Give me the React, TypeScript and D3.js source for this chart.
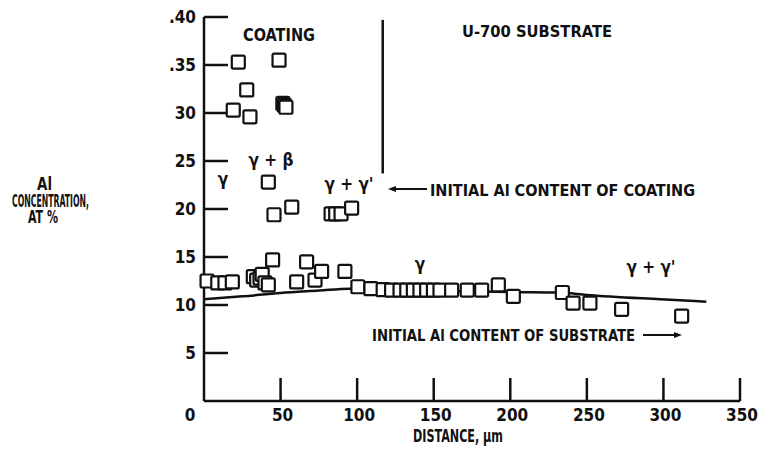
import React from 'react';
import * as d3 from 'd3';

// measured Al concentration (at %) vs distance from surface (um)
const distance = [
  2, 9, 13.7, 18.5, 22.4, 19.1, 27.9, 30, 49, 51.5, 52.5, 53.5,
  42, 45.7, 57.3, 83, 86, 89.5, 96.4,
  32.2, 34.4, 36.6, 38, 39.8, 42, 44.8, 60.5, 67, 72.5, 76.8, 92,
  100.5, 109, 117, 122.5, 128, 132.4, 136.7, 141, 145.4, 149.8, 154.1,
  161.7, 171.9, 181.3, 192.2, 202, 234, 241, 252, 272.7, 311.9
];
const concentration = [
  12.5, 12.3, 12.3, 12.4, 35.3, 30.3, 32.4, 29.6, 35.5, 31.0, 30.8, 30.6,
  22.8, 19.4, 20.2, 19.5, 19.5, 19.5, 20.1,
  12.95, 12.6, 12.8, 13.2, 12.3, 12.1, 14.7, 12.4, 14.5, 12.6, 13.5, 13.5,
  11.9, 11.7, 11.6, 11.55, 11.55, 11.55, 11.55, 11.55, 11.55, 11.55, 11.55,
  11.55, 11.55, 11.55, 12.1, 10.9, 11.3, 10.2, 10.2, 9.55, 8.85
];

// initial Al content of substrate curve
const substrateX = [0, 25, 50, 75, 95, 110, 150, 200, 232, 250, 298, 328];
const substrateY = [10.6, 10.9, 11.25, 11.5, 11.7, 11.65, 11.5, 11.35, 11.3, 11.05, 10.6, 10.35];

// coating / substrate boundary
const boundaryX = 116.7;
const boundaryY = [23.7, 39.7];

const xTicks = [50, 100, 150, 200, 250, 300, 350];
const xTickLabels = ['50', '100', '150', '200', '250', '300', '350'];
const yTicks = [5, 10, 15, 20, 25, 30, 35, 40];
const yTickLabels = ['5', '10', '15', '20', '25', '30', '.35', '.40'];

const FONT = '"DejaVu Sans Condensed", "DejaVu Sans", sans-serif';

export default function App() {
  const x = d3.scaleLinear().domain([0, 350]).range([204, 740]);
  const y = d3.scaleLinear().domain([0, 40]).range([401, 17]);

  const line = d3.line<number>()
    .x((d, i) => x(substrateX[i]))
    .y(d => y(d))
    .curve(d3.curveMonotoneX);

  const sq = 13;
  const txt = {fontFamily: FONT, fontWeight: 700, fill: '#111'};
  const fit = {lengthAdjust: 'spacingAndGlyphs'} as any;

  return (
    <svg width={759} height={454} style={{position: 'absolute', left: 0, top: 0, background: '#fff'}}>
      <g stroke="#111" strokeWidth={2.5} fill="none">
        {/* axes */}
        <line x1={x(0)} x2={x(0)} y1={y(0)} y2={y(40)} />
        <line x1={x(0)} x2={x(350)} y1={y(0)} y2={y(0)} />
        {yTicks.map(t => (
          <line key={'yt' + t} x1={x(0)} x2={x(0) + 24} y1={y(t)} y2={y(t)} />
        ))}
        {xTicks.map(t => (
          <line key={'xt' + t} x1={x(t)} x2={x(t)} y1={y(0)} y2={y(0) - 23} />
        ))}
        <line x1={x(boundaryX)} x2={x(boundaryX)} y1={y(boundaryY[0])} y2={y(boundaryY[1])} />
        <path d={line(substrateY) || ''} />
        {/* arrows */}
        <line x1={392} x2={427} y1={189} y2={189} strokeWidth={2} />
        <line x1={643} x2={676} y1={335} y2={335} strokeWidth={2} />
      </g>
      <path d="M388,189 L396,186 L396,192 Z" fill="#111" />
      <path d="M682,335 L674,332 L674,338 Z" fill="#111" />

      <g stroke="#111" strokeWidth={2.2} fill="#fff">
        {distance.map((d, i) => (
          <rect key={'p' + i} x={x(d) - sq / 2} y={y(concentration[i]) - sq / 2}
            width={sq} height={sq} rx={1.5} />
        ))}
      </g>

      <g style={txt} fontSize={17}>
        {yTicks.map((t, i) => (
          <text key={'yl' + t} x={196} y={y(t)} dy="0.36em" textAnchor="end">{yTickLabels[i]}</text>
        ))}
        {xTicks.map((t, i) => (
          <text key={'xl' + t} x={x(t) + 2} y={421} textAnchor="middle">{xTickLabels[i]}</text>
        ))}
        <text x={190} y={421} textAnchor="middle">0</text>
        <text x={413} y={442} fontSize={17} textLength={90} {...fit}>DISTANCE, μm</text>

        <text x={37} y={190} fontSize={17} textLength={15} {...fit}>Al</text>
        <text x={12} y={207} fontSize={17} textLength={77} {...fit}>CONCENTRATION,</text>
        <text x={28} y={223} fontSize={17} textLength={30} {...fit}>AT %</text>

        <text x={243} y={41} textLength={72} {...fit}>COATING</text>
        <text x={462} y={37} fontSize={16} textLength={150} {...fit}>U-700 SUBSTRATE</text>
        <text x={430} y={196} fontSize={16} textLength={265} {...fit}>INITIAL Al CONTENT OF COATING</text>
        <text x={372} y={341} fontSize={16} textLength={263} {...fit}>INITIAL Al CONTENT OF SUBSTRATE</text>

        <text x={223} y={185} textAnchor="middle">γ</text>
        <text x={271} y={166} textAnchor="middle">γ + β</text>
        <text x={349} y={190} textAnchor="middle">γ + γ'</text>
        <text x={420} y={270} textAnchor="middle">γ</text>
        <text x={651} y={273} textAnchor="middle">γ + γ'</text>
      </g>
    </svg>
  );
}
